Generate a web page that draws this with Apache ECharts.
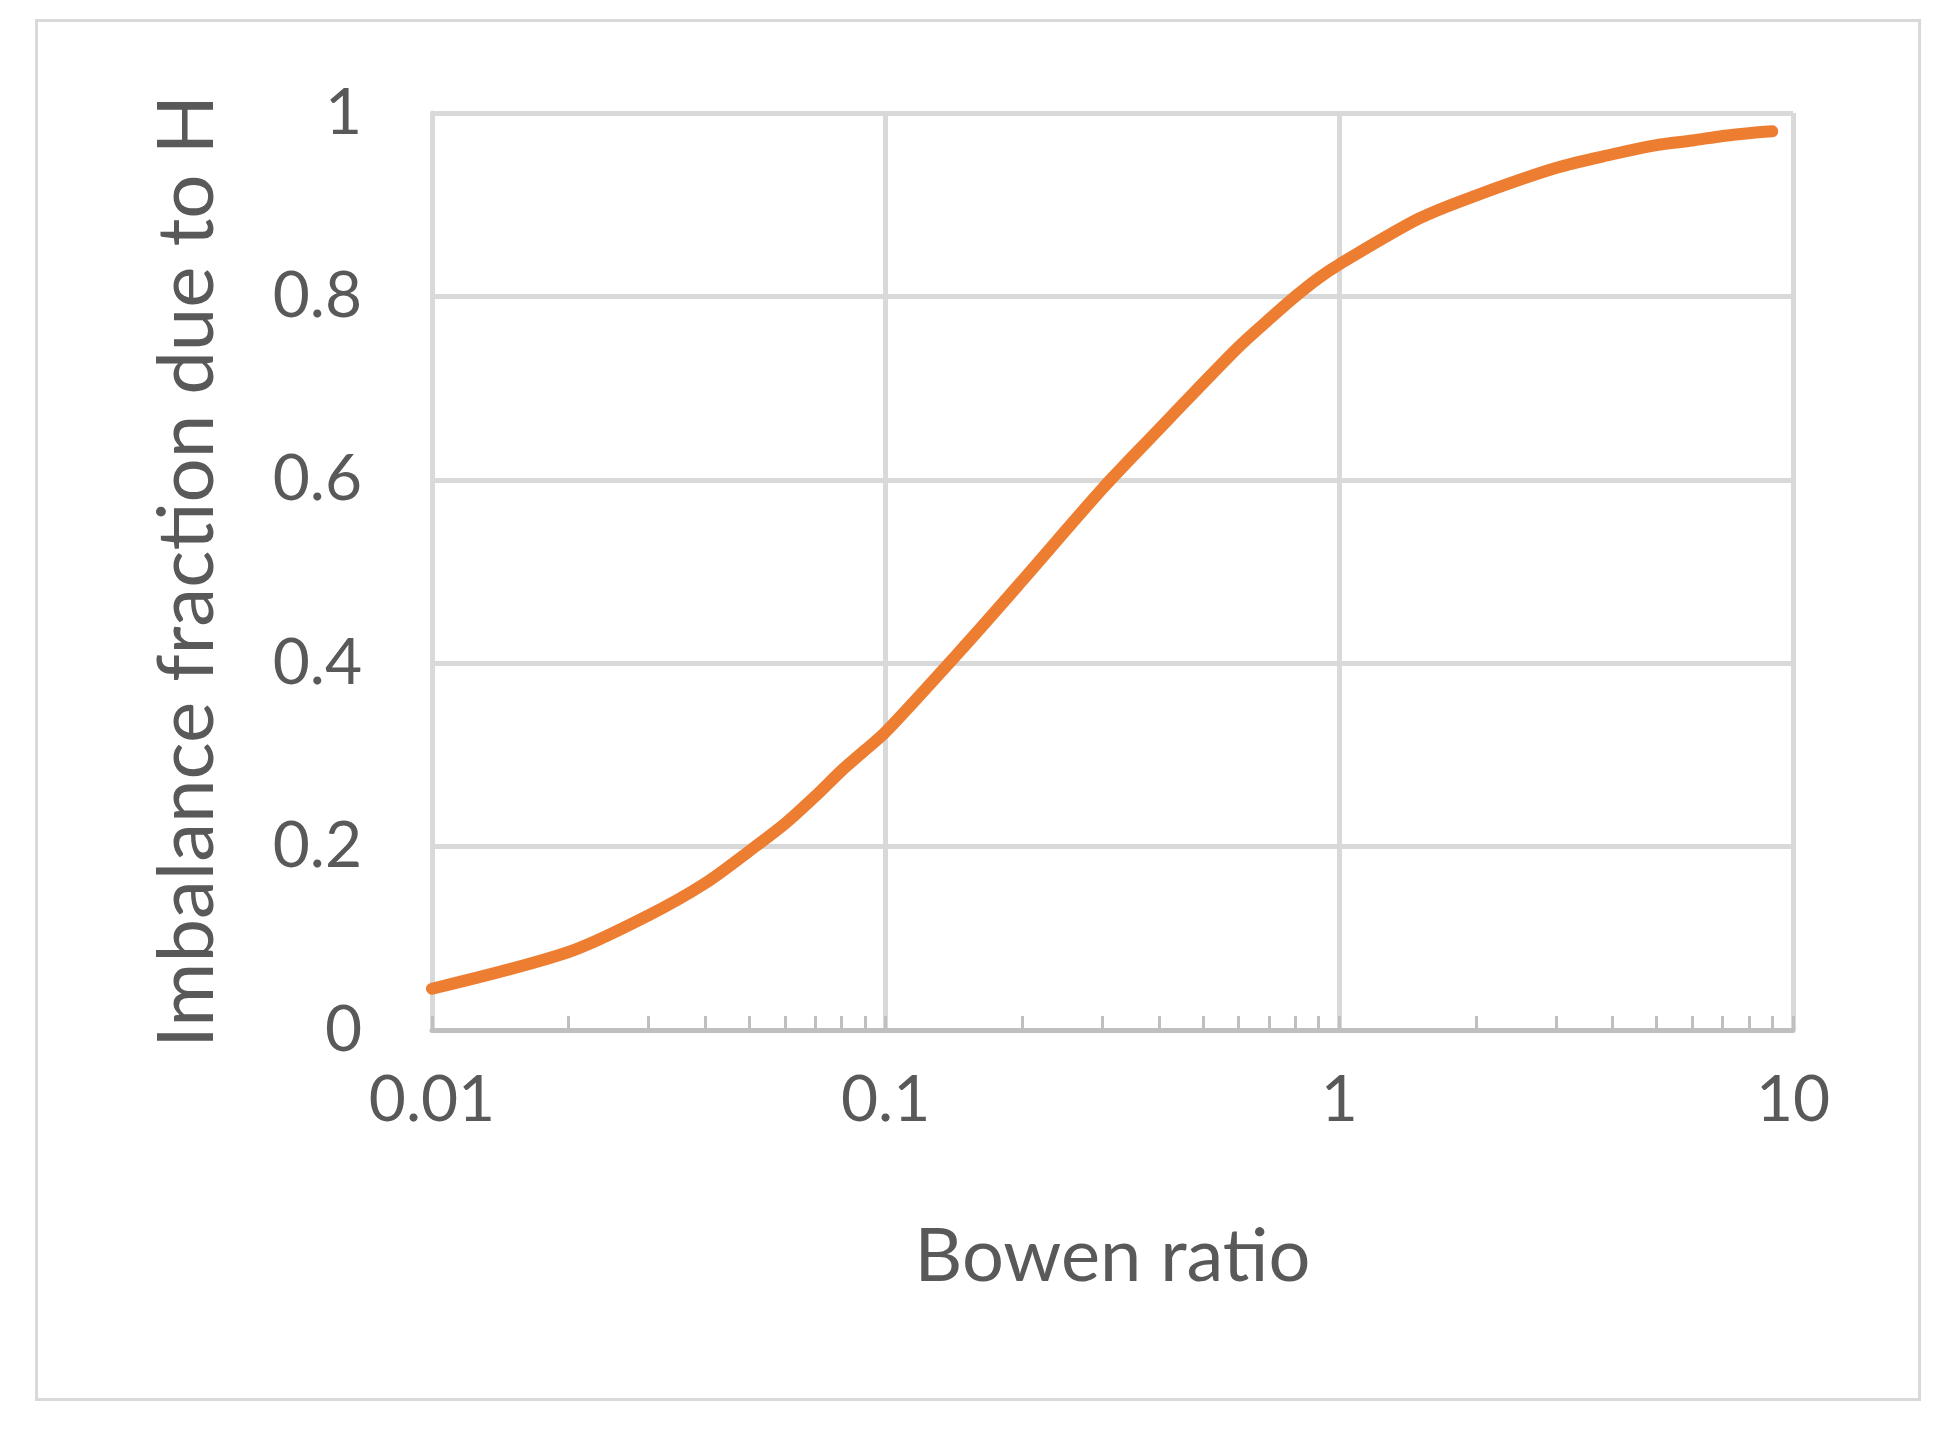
<!DOCTYPE html>
<html><head><meta charset="utf-8">
<script src="https://cdn.jsdelivr.net/npm/echarts@6/dist/echarts.min.js"></script>
<style>html,body{margin:0;background:#fff}#c{width:1955px;height:1433px}
#b{position:absolute;left:35px;top:19px;width:1886px;height:1382px;border:3px solid #d9d9d9;box-sizing:border-box;pointer-events:none}</style>
</head><body><div id="c"></div><div id="b"></div>
<script>
const bowen = [0.01,0.02,0.03,0.04,0.05,0.06,0.07,0.08,0.09,0.1,0.15,0.2,0.3,0.4,0.5,0.6,0.7,0.8,0.9,1,1.5,2,3,4,5,6,7,8,9];
const fractionH = [0.045,0.085,0.125,0.16,0.195,0.225,0.255,0.283,0.305,0.325,0.42,0.49,0.59,0.655,0.705,0.745,0.775,0.8,0.82,0.835,0.885,0.91,0.94,0.955,0.965,0.97,0.975,0.978,0.98];
const xTicks = ['0.01','0.1','1','10'];
const yTicks = ['0','0.2','0.4','0.6','0.8','1'];
const font = 'Lato, "Open Sans", sans-serif', grey = '#595959';
const pts = bowen.map((b,i)=>[b,fractionH[i]]);
echarts.init(document.getElementById('c')).setOption({
  animation:false,
  grid:{left:432,right:162,top:113,bottom:403},
  xAxis:{type:'log',min:0.01,max:10,logBase:10,
    name:'Bowen ratio',nameLocation:'middle',nameGap:190,
    nameTextStyle:{fontFamily:font,fontSize:74,color:grey},
    axisLine:{lineStyle:{color:'#bfbfbf',width:5}},
    axisTick:{show:true,inside:true,length:14,lineStyle:{color:'#bfbfbf',width:3}},
    minorTick:{show:true,splitNumber:9,length:14,lineStyle:{color:'#bfbfbf',width:3}},
    axisLabel:{fontFamily:font,fontSize:64,color:grey,margin:38,formatter:v=>xTicks[Math.round(Math.log10(v))+2]},
    splitLine:{show:true,lineStyle:{color:'#d9d9d9',width:5}}},
  yAxis:{type:'value',min:0,max:1,interval:0.2,
    name:'Imbalance fraction due to H',nameLocation:'middle',nameGap:205,
    nameTextStyle:{fontFamily:font,fontSize:78,color:grey},
    axisLine:{show:true,lineStyle:{color:'#d9d9d9',width:5}},axisTick:{show:false},
    axisLabel:{fontFamily:font,fontSize:64,color:grey,margin:70,formatter:v=>yTicks[Math.round(v*5)]},
    splitLine:{lineStyle:{color:'#d9d9d9',width:5}}},
  series:[
    {type:'line',data:pts,smooth:0.3,symbol:'none',lineStyle:{color:'#4472c4',width:2}},
    {type:'line',data:pts,smooth:0.3,symbol:'none',lineStyle:{color:'#ed7d31',width:12,cap:'round'}}
  ]
});
</script></body></html>
